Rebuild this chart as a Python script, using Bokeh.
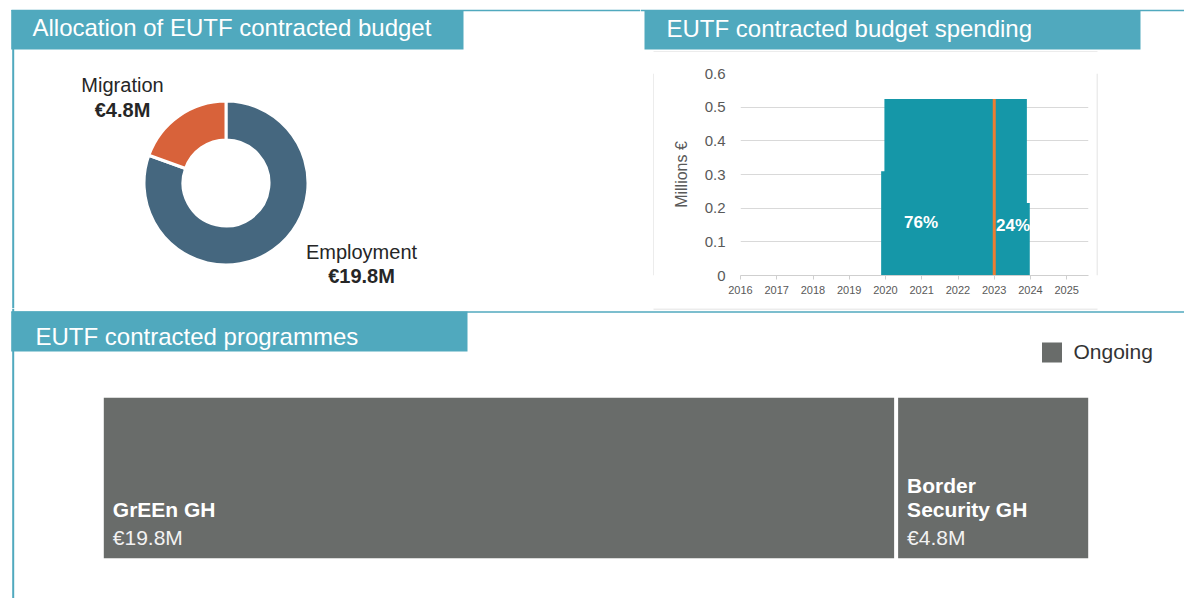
import math
import textwrap
from bokeh.plotting import figure
from bokeh.models import Range1d, FixedTicker
from bokeh.layouts import row, column
from bokeh.embed import file_html
from bokeh.resources import INLINE
from bokeh.core.properties import value

# ---------------- data ----------------
sectors = ["Employment", "Migration"]
sector_budget = [19.8, 4.8]
sector_budget_labels = ["€19.8M", "€4.8M"]
sector_colors = ["#45677f", "#d8623a"]

spend_edges = [2019.88, 2019.97, 2023.90, 2023.98]   # step boundaries (years)
spend_values = [0.31, 0.524, 0.215]                  # millions €
cutoff_year = 2023.0
spend_share_labels = ["76%", "24%"]
year_ticks = [2016, 2017, 2018, 2019, 2020, 2021, 2022, 2023, 2024, 2025]
year_labels = ["2016", "2017", "2018", "2019", "2020", "2021", "2022", "2023", "2024", "2025"]
y_ticks = [0, 0.1, 0.2, 0.3, 0.4, 0.5, 0.6]
y_tick_labels = ["0", "0.1", "0.2", "0.3", "0.4", "0.5", "0.6"]

programmes = ["GrEEn GH", "Border Security GH"]
programme_budget = [19.8, 4.8]
programme_budget_labels = ["€19.8M", "€4.8M"]
programme_status = ["Ongoing", "Ongoing"]
status_colors = {"Ongoing": "#696c6a"}

# ---------------- style / layout ----------------
PH = 614
W = 1184
H = 598
FONT = "Liberation Sans"
TEAL = "#50a9be"
BOXC = "#d9d9d9"
TXT = "#262626"
GREY_TXT = "#595959"


def Y(py):
    return PH - py


def canvas(x0, x1, y0, y1):
    p = figure(width=x1 - x0, height=y1 - y0,
               x_range=Range1d(x0, x1), y_range=Range1d(Y(y1), Y(y0)),
               output_backend="svg", toolbar_location=None,
               x_axis_type=None, y_axis_type=None, min_border=0)
    p.outline_line_color = None
    p.background_fill_color = "white"
    p.border_fill_color = "white"
    return p


def box(p, l, r, t, b, color):
    p.quad(left=[l], right=[r], top=[Y(t)], bottom=[Y(b)], fill_color=color, line_color=None)


def txt(p, x, base, s, size, color, bold=False, align="left", **kw):
    # base = alphabetic baseline in page pixels; drawn with middle baseline at cap centre
    p.text(x=[x], y=[Y(base - 0.36 * size)], text=[s], text_font=value(FONT),
           text_font_size=value(f"{size}px"),
           text_font_style="bold" if bold else "normal", text_color=color,
           text_align=align, text_baseline="middle", **kw)


# ---------------- panel A: donut ----------------
figA = canvas(0, 640, 0, 308)
box(figA, 11, 640, 9.3, 10.7, TEAL)
box(figA, 11.7, 13.7, 10, 308, TEAL)
box(figA, 10.7, 463, 9.5, 49, TEAL)
txt(figA, 32, 36, "Allocation of EUTF contracted budget", 24, "white")

cx, cy, r_in, r_out = 225.5, Y(182.5), 43, 82
total = sum(sector_budget)
starts, ends = [], []
cum = 0.0
for v in sector_budget:
    a_end = math.pi / 2 - cum / total * 2 * math.pi
    cum += v
    a_start = math.pi / 2 - cum / total * 2 * math.pi
    starts.append(a_start)
    ends.append(a_end)
figA.annular_wedge(x=[cx] * len(sectors), y=[cy] * len(sectors), inner_radius=r_in, outer_radius=r_out,
                   start_angle=starts, end_angle=ends, fill_color=sector_colors,
                   line_color="white", line_width=3)

donut_label_pos = [(361, 259, 283), (122, 92, 117)]
for name, lab, (lx, ly1, ly2) in zip(sectors, sector_budget_labels, donut_label_pos):
    txt(figA, lx, ly1, name, 20, TXT, align="center")
    txt(figA, lx, ly2, lab, 20, TXT, bold=True, align="center")

# ---------------- panel B: spending ----------------
T1 = canvas(640, W, 0, 52)
box(T1, 640, W, 9.3, 10.7, TEAL)
box(T1, 644, 1140, 9.5, 49, TEAL)
txt(T1, 666, 36.5, "EUTF contracted budget spending", 24, "white")
box(T1, 653, 1097, 51, 52, BOXC)

figL = canvas(640, 654, 52, 308)
box(figL, 653, 654, 52, 308, BOXC)
figR = canvas(1096, W, 52, 308)
box(figR, 1096, 1097, 52, 308, BOXC)

pc = figure(width=442, height=256, x_range=Range1d(2016, 2025.6), y_range=Range1d(0, 0.6),
            output_backend="svg", toolbar_location=None,
            min_border_left=86, min_border_right=8, min_border_top=21, min_border_bottom=33)
pc.outline_line_color = None
pc.background_fill_color = "white"
pc.border_fill_color = "white"
pc.xgrid.visible = False
pc.yaxis.ticker = FixedTicker(ticks=y_ticks)
pc.yaxis.major_label_overrides = dict(zip(y_ticks, y_tick_labels))
pc.ygrid.grid_line_color = BOXC
pc.yaxis.axis_line_color = None
pc.yaxis.major_tick_line_color = None
pc.yaxis.minor_tick_line_color = None
pc.yaxis.major_tick_out = 0
pc.yaxis.major_label_standoff = 15
pc.yaxis.major_label_text_font = FONT
pc.yaxis.major_label_text_font_size = "15px"
pc.yaxis.major_label_text_color = GREY_TXT
pc.yaxis.axis_label = "Millions €"
pc.yaxis.axis_label_text_font = FONT
pc.yaxis.axis_label_text_font_size = "16px"
pc.yaxis.axis_label_text_font_style = "normal"
pc.yaxis.axis_label_text_color = GREY_TXT
pc.yaxis.axis_label_standoff = 12

pc.xaxis.ticker = FixedTicker(ticks=year_ticks)
pc.xaxis.major_label_overrides = dict(zip(year_ticks, year_labels))
pc.xaxis.axis_line_color = "#cfcfcf"
pc.xaxis.major_tick_line_color = "#cfcfcf"
pc.xaxis.minor_tick_line_color = None
pc.xaxis.major_tick_out = 4
pc.xaxis.major_tick_in = 0
pc.xaxis.major_label_standoff = 6
pc.xaxis.major_label_text_font = FONT
pc.xaxis.major_label_text_font_size = "11px"
pc.xaxis.major_label_text_color = GREY_TXT

ax, ay = [], []
for i, v in enumerate(spend_values):
    ax += [spend_edges[i], spend_edges[i + 1]]
    ay += [v, v]
pc.varea(x=ax, y1=[0] * len(ax), y2=ay, fill_color="#1597a8")
pc.segment(x0=[cutoff_year], y0=[0], x1=[cutoff_year], y1=[max(spend_values)],
           line_color="#ed7d31", line_width=3)
pct_x = [2020.98, 2023.52]
pct_y = [0.158, 0.148]
pc.text(x=pct_x, y=pct_y, text=spend_share_labels, text_font=value(FONT), text_font_size=value("17px"),
        text_font_style="bold", text_color="white", text_align="center", text_baseline="middle")

# ---------------- panel C: programmes ----------------
figC = canvas(0, W, 308, H)
box(figC, 653, 1097, 308, 309, BOXC)
box(figC, 11.7, 13.7, 308, H, TEAL)
box(figC, 11, W, 310.7, 312.3, TEAL)
box(figC, 10.7, 467, 311, 351, TEAL)
txt(figC, 35, 345, "EUTF contracted programmes", 24, "white")

# legend
for i, st in enumerate(sorted(set(programme_status))):
    box(figC, 1041.5, 1061.5, 342, 362, status_colors[st])
    txt(figC, 1073, 359, st, 21, "#333333")

TM_LEFT, TM_RIGHT, TM_TOP, TM_BOTTOM = 103.3, 1087.7, 397.3, 557.7
tm_total = sum(programme_budget)
ppu = (TM_RIGHT - TM_LEFT) / tm_total
figC.extra_x_ranges = {"tm": Range1d((0 - TM_LEFT) / ppu, (W - TM_LEFT) / ppu)}
gap = 2.0 / ppu
cum = 0.0
n = len(programmes)
for i, (name, v, lab, st) in enumerate(zip(programmes, programme_budget, programme_budget_labels, programme_status)):
    left = cum + (gap if i > 0 else 0)
    right = cum + v - (gap if i < n - 1 else 0)
    cum += v
    figC.quad(left=[left], right=[right], top=[Y(TM_TOP)], bottom=[Y(TM_BOTTOM)],
              fill_color=status_colors[st], line_color=None, x_range_name="tm")
    width_px = (right - left) * ppu
    lines = [name] if width_px > 300 else textwrap.wrap(name, width=12)
    base = TM_BOTTOM - 12.7
    txt(figC, left, base, lab, 21, "#f2f2f2", x_range_name="tm", x_offset=9)
    for k, ln in enumerate(reversed(lines)):
        txt(figC, left, base - 28 - 24 * k, ln, 21, "white", bold=True, x_range_name="tm", x_offset=9)

layout = column(row(figA, column(T1, row(figL, pc, figR))), figC)
open("out.html", "w").write(file_html(layout, INLINE))
